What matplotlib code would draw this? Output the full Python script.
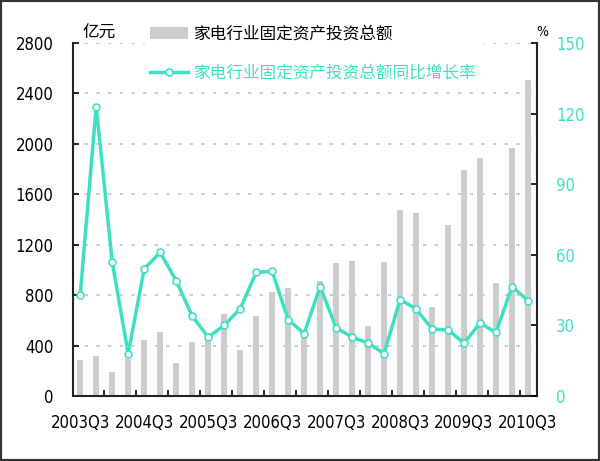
import numpy as np
import matplotlib
matplotlib.use("Agg")
import matplotlib.pyplot as plt
from matplotlib.patches import Rectangle

plt.rcParams['font.family'] = ['DejaVu Sans', 'Noto Sans CJK SC']
plt.rcParams['font.stretch'] = 'condensed'

# quarters 2003Q3 .. 2010Q3
quarters = [f"{y}Q{q}" for y in range(2003, 2011) for q in range(1, 5)][2:31]
tick_labels = ["2003Q3", "2004Q3", "2005Q3", "2006Q3", "2007Q3", "2008Q3", "2009Q3", "2010Q3"]

# fixed asset investment of household appliance industry, 100 million yuan
invest = [285, 315, 190, 290, 445, 505, 265, 430, 465, 650, 365, 635, 825, 860,
          470, 915, 1055, 1070, 555, 1065, 1475, 1455, 705, 1355, 1790, 1885, 895, 1965, 2505]

# year-on-year growth, %
growth = [43, 123, 57, 18, 54, 61, 49, 34, 25, 30, 37, 52.5, 53, 32.5,
          26.5, 46.5, 29, 25, 22.5, 18, 41, 37, 28.5, 28, 22.5, 31, 27, 46.5, 40.5]

bar_color = "#c9cdcd"
line_color = "#3fe0c2"

fig = plt.figure(figsize=(6, 4.61), dpi=100)
ax = fig.add_axes([0.1217, 0.141, 0.773, 0.7657])
x = np.arange(len(quarters))

ax.bar(x, invest, width=0.4, color=bar_color, zorder=2, label="家电行业固定资产投资总额")
ax.set_xlim(-0.45, len(quarters) - 0.45)
ax.set_ylim(0, 2800)
ax.set_yticks(np.arange(0, 2801, 400))
ax.yaxis.grid(True, linestyle=(0, (2, 5)), color="#c4c4c4", linewidth=1.2, zorder=0)
ax.set_axisbelow(True)
ax.set_xticks(np.arange(1.5, len(quarters), 2))
ax.set_xticklabels([])
ax.set_xticks(np.arange(0, len(quarters), 4), minor=True)
ax.set_xticklabels(tick_labels, minor=True)
ax.tick_params(axis='x', which='major', direction='in', length=4, width=1.2)
ax.tick_params(axis='x', which='minor', length=0, pad=13, labelsize=12)
ax.tick_params(axis='y', direction='in', length=4, width=1.2, labelsize=12, pad=14)
ax.spines['top'].set_visible(False)
ax.spines['right'].set_visible(False)
for s in ['left', 'bottom']:
    ax.spines[s].set_linewidth(1.5)
    ax.spines[s].set_color("#222222")

ax2 = ax.twinx()
ax2.plot(x, growth, color=line_color, linewidth=2.5, marker='o', markersize=5,
         markerfacecolor='white', markeredgecolor=line_color, markeredgewidth=1.2,
         zorder=3, label="家电行业固定资产投资总额同比增长率")
ax2.set_ylim(0, 150)
ax2.set_yticks(np.arange(0, 151, 30))
ax2.tick_params(axis='y', direction='in', length=4, width=1.2, labelsize=12,
                labelcolor=line_color, pad=14)
ax2.spines['top'].set_visible(False)
ax2.spines['left'].set_visible(False)
ax2.spines['bottom'].set_visible(False)
ax2.spines['right'].set_linewidth(1.5)
ax2.spines['right'].set_color("#222222")

h1, l1 = ax.get_legend_handles_labels()
h2, l2 = ax2.get_legend_handles_labels()
leg = ax2.legend(h1 + h2, l1 + l2, loc='upper left', bbox_to_anchor=(0.137, 1.09),
                 frameon=True, facecolor='white', edgecolor='white', framealpha=1,
                 fontsize=12, handlelength=2.3, labelspacing=1.25, borderpad=0.3,
                 handletextpad=0.35)
leg.get_texts()[1].set_color(line_color)

fig.text(0.165, 0.928, "亿元", fontsize=12, ha='center', va='center')
fig.text(0.903, 0.93, "%", fontsize=10, ha='center', va='center')

fig.patches.append(Rectangle((0, 0), 1, 1, transform=fig.transFigure, fill=False,
                             edgecolor="#333333", linewidth=3))

fig.savefig("out.png", dpi=100, facecolor='white')
